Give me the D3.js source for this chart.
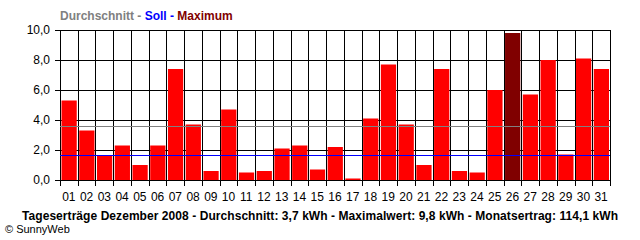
<!DOCTYPE html>
<html>
<head>
<meta charset="utf-8">
<script src="https://cdn.jsdelivr.net/npm/d3@7"></script>
<style>
  body { margin: 0; background: #fff; }
  svg text { font-family: "Liberation Sans", Arial, sans-serif; }
</style>
</head>
<body>
<div id="chart"></div>
<script>
// daily yield December 2008 (kWh)
const days = d3.range(1, 32).map(d => String(d).padStart(2, "0"))
const yields = [5.3, 3.3, 1.6, 2.3, 1.0, 2.3, 7.4, 3.7, 0.6, 4.7,
                0.5, 0.6, 2.1, 2.3, 0.7, 2.2, 0.1, 4.1, 7.7, 3.7,
                1.0, 7.4, 0.6, 0.5, 6.0, 9.8, 5.7, 8.0, 1.7, 8.1, 7.4]
const yTicks = [0, 2, 4, 6, 8, 10]
const avgLine = 3.6
const sollLine = 1.7
const legend = [
    { text: "Durchschnitt - ", color: "#808080" },
    { text: "Soll - ", color: "#0000ff" },
    { text: "Maximum", color: "#800000" }
]
const footer = "Tageserträge Dezember 2008 - Durchschnitt: 3,7 kWh - Maximalwert: 9,8 kWh - Monatsertrag: 114,1 kWh"

const W = 640, H = 240
const margin = { top: 30, right: 30, bottom: 60, left: 60 }

const svg = d3.select("#chart")
    .append("svg")
    .attr("width", W)
    .attr("height", H)

const x = d3.scaleBand()
    .domain(days)
    .range([margin.left, W - margin.right])
    .padding(0)

const y = d3.scaleLinear()
    .domain([0, 10])
    .range([H - margin.bottom, margin.top])

const maxVal = d3.max(yields)
const data = days.map((d, i) => ({ day: d, value: yields[i] }))

/* GRID: horizontal */
svg.selectAll("line.hgrid")
    .data(yTicks)
    .join("line")
    .attr("x1", margin.left - 5)
    .attr("x2", W - margin.right)
    .attr("y1", d => Math.round(y(d)) + 0.5)
    .attr("y2", d => Math.round(y(d)) + 0.5)
    .attr("stroke", "#000")

/* GRID: vertical, column boundaries with ticks below */
const bounds = days.map(d => x(d)).concat([x.range()[1]])
svg.selectAll("line.vgrid")
    .data(bounds)
    .join("line")
    .attr("x1", d => Math.round(d) + 0.5)
    .attr("x2", d => Math.round(d) + 0.5)
    .attr("y1", margin.top)
    .attr("y2", y(0) + 6)
    .attr("stroke", "#000")

/* BARS (cover the grid) */
svg.selectAll("rect.bar")
    .data(data)
    .join("rect")
    .attr("class", "bar")
    .attr("x", d => x(d.day) + 1.5)
    .attr("width", x.bandwidth() - 2.5)
    .attr("y", d => y(d.value))
    .attr("height", d => y(0) - y(d.value))
    .attr("fill", d => d.value === maxVal ? "#800000" : "#ff0000")

/* AVERAGE + SOLL LINES */
svg.append("line")
    .attr("x1", margin.left).attr("x2", W - margin.right)
    .attr("y1", Math.round(y(avgLine)) + 0.5).attr("y2", Math.round(y(avgLine)) + 0.5)
    .attr("stroke", "#808080")
svg.append("line")
    .attr("x1", margin.left).attr("x2", W - margin.right)
    .attr("y1", Math.round(y(sollLine)) + 0.5).attr("y2", Math.round(y(sollLine)) + 0.5)
    .attr("stroke", "#0000ff")

/* Y LABELS */
svg.selectAll("text.ylab")
    .data(yTicks)
    .join("text")
    .attr("x", margin.left - 10)
    .attr("y", d => y(d) + 4)
    .attr("text-anchor", "end")
    .style("font-size", "12px")
    .text(d => d.toFixed(1).replace(".", ","))

/* X LABELS */
svg.selectAll("text.xlab")
    .data(days)
    .join("text")
    .attr("x", d => x(d) + x.bandwidth() / 2)
    .attr("y", y(0) + 21)
    .attr("text-anchor", "middle")
    .style("font-size", "12px")
    .text(d => d)

/* LEGEND */
const lg = svg.append("text")
    .attr("x", margin.left)
    .attr("y", 20)
    .style("font-size", "12px")
    .style("font-weight", "bold")
lg.selectAll("tspan")
    .data(legend)
    .join("tspan")
    .attr("fill", d => d.color)
    .style("white-space", "pre")
    .text(d => d.text)

/* FOOTER */
svg.append("text")
    .attr("x", 320)
    .attr("y", 220)
    .attr("text-anchor", "middle")
    .attr("textLength", 596)
    .style("font-size", "12px")
    .style("font-weight", "bold")
    .text(footer)

svg.append("text")
    .attr("x", 5)
    .attr("y", 233)
    .style("font-size", "11px")
    .text("© SunnyWeb")
</script>
</body>
</html>
